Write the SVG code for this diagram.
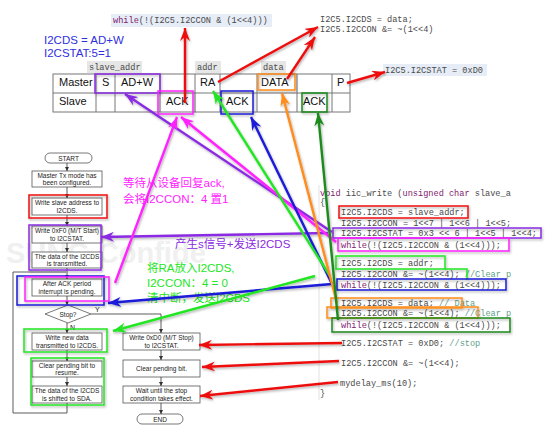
<svg xmlns="http://www.w3.org/2000/svg" width="557" height="434" viewBox="0 0 557 434">
<defs>
<style>
.code{font-family:"Liberation Mono","DejaVu Sans Mono",monospace;font-size:8.6px;fill:#4a4a4a}
.kw{fill:#7f1a6f}
.cm{fill:#5f9f8a}
.fc{font-family:"Liberation Sans",Arial,sans-serif;font-size:6.5px;fill:#222;text-anchor:middle}
.box{fill:#fff;stroke:#555;stroke-width:0.8}
.tbl{font-family:"Liberation Sans",Arial,sans-serif;font-size:11px;fill:#111}
.cell{fill:none;stroke:#777;stroke-width:1}
.hl{fill:none;stroke-width:1.5}
.cn{font-family:"Liberation Sans","Noto Sans CJK SC",sans-serif;font-size:11.5px}
.fl{fill:none;stroke:#333;stroke-width:0.8}
.ln{fill:none;stroke-width:2.4}
.red{stroke:#ee1111}.pur{stroke:#8a2be2}.mag{stroke:#ff22ff}.blu{stroke:#1a1ad8}.grn{stroke:#22e622}.org{stroke:#ff8c1a}.dgr{stroke:#1a8a1a}
</style>
<filter id="sh" x="-10%" y="-10%" width="130%" height="130%">
<feDropShadow dx="1" dy="1.5" stdDeviation="0.8" flood-color="#000" flood-opacity="0.3"/>
</filter>
<marker id="fa" markerWidth="5" markerHeight="5" refX="4" refY="2" orient="auto" markerUnits="userSpaceOnUse"><path d="M0,0 L4,2 L0,4 z" fill="#333"/></marker>
<marker id="mr" markerWidth="14" markerHeight="10" refX="13" refY="5" orient="auto" markerUnits="userSpaceOnUse"><path d="M0,0 L13,5 L0,10 L4,5 z" fill="#ee1111"/></marker>
<marker id="mp" markerWidth="14" markerHeight="10" refX="13" refY="5" orient="auto" markerUnits="userSpaceOnUse"><path d="M0,0 L13,5 L0,10 L4,5 z" fill="#8a2be2"/></marker>
<marker id="mm" markerWidth="14" markerHeight="10" refX="13" refY="5" orient="auto" markerUnits="userSpaceOnUse"><path d="M0,0 L13,5 L0,10 L4,5 z" fill="#ff22ff"/></marker>
<marker id="mb" markerWidth="14" markerHeight="10" refX="13" refY="5" orient="auto" markerUnits="userSpaceOnUse"><path d="M0,0 L13,5 L0,10 L4,5 z" fill="#1a1ad8"/></marker>
<marker id="mg" markerWidth="14" markerHeight="10" refX="13" refY="5" orient="auto" markerUnits="userSpaceOnUse"><path d="M0,0 L13,5 L0,10 L4,5 z" fill="#22e622"/></marker>
<marker id="mo" markerWidth="14" markerHeight="10" refX="13" refY="5" orient="auto" markerUnits="userSpaceOnUse"><path d="M0,0 L13,5 L0,10 L4,5 z" fill="#ff8c1a"/></marker>
<marker id="md" markerWidth="14" markerHeight="10" refX="13" refY="5" orient="auto" markerUnits="userSpaceOnUse"><path d="M0,0 L13,5 L0,10 L4,5 z" fill="#1a8a1a"/></marker>
</defs>
<rect width="557" height="434" fill="#fff"/>

<!-- watermark -->
<text x="6" y="263" font-family="Liberation Sans,Arial,sans-serif" font-size="29" font-weight="bold" fill="#f0f0f0">SUNG Confide</text>

<!-- top labels -->
<g id="top-code">
<rect x="111" y="14" width="161" height="13" fill="#e6edf6"/>
<text class="code" x="113" y="23"><tspan class="kw">while</tspan>(!(I2C5.I2CCON &amp; (1&lt;&lt;4)))</text>
<text class="code" x="320" y="22">I2C5.I2CDS = data;</text>
<text class="code" x="320" y="32">I2C5.I2CCON &amp;= ~(1&lt;&lt;4)</text>
<rect x="383" y="64" width="104" height="12" fill="#e6edf6"/>
<text class="code" x="385" y="73">I2C5.I2CSTAT = 0xD0</text>
</g>
<g id="blue-note" font-family="Liberation Sans,Arial,sans-serif" font-size="11.5" fill="#3030e0">
<text x="44" y="44">I2CDS = AD+W</text>
<text x="44" y="57">I2CSTAT:5=1</text>
</g>
<g id="field-labels">
<rect x="87" y="61" width="55" height="12" fill="#e6e6e6"/>
<text class="code" x="89" y="70">slave_addr</text>
<rect x="195" y="61" width="26" height="12" fill="#e6e6e6"/>
<text class="code" x="197" y="70">addr</text>
<rect x="261" y="61" width="25" height="12" fill="#e6e6e6"/>
<text class="code" x="263" y="70">data</text>
</g>

<!-- table -->
<g id="table">
<rect class="cell" x="53" y="74" width="297" height="38"/>
<line class="cell" x1="53" y1="93" x2="350" y2="93"/>
<path class="cell" d="M96,74V112M115,74V112M160,74V112M195,74V112M220,74V112M257,74V112M297,74V112M332,74V112"/>
<text class="tbl" x="59" y="86">Master</text>
<text class="tbl" x="102" y="86">S</text>
<text class="tbl" x="121" y="86">AD+W</text>
<text class="tbl" x="200" y="86">RA</text>
<text class="tbl" x="261" y="86">DATA</text>
<text class="tbl" x="337" y="86">P</text>
<text class="tbl" x="59" y="105">Slave</text>
<text class="tbl" x="166" y="105">ACK</text>
<text class="tbl" x="226" y="105">ACK</text>
<text class="tbl" x="303" y="105">ACK</text>
</g>
<g id="table-highlights" filter="url(#sh)">
<rect class="hl pur" x="95" y="74" width="65" height="19"/>
<rect class="hl mag" x="158" y="91" width="35" height="23"/>
<rect class="hl blu" x="221" y="91" width="32" height="23"/>
<rect class="hl org" x="258" y="74" width="37" height="16"/>
<rect class="hl dgr" x="302" y="93" width="25" height="19"/>
</g>

<!-- flowchart -->
<g id="fc-start"><rect class="box" x="45" y="153" width="47" height="10" rx="5"/><text class="fc" x="68.5" y="160.5">START</text></g>
<g id="fc-config"><rect class="box" x="32" y="171" width="70" height="16"/><text class="fc" x="67" y="177.8">Master Tx mode has</text><text class="fc" x="67" y="184.8">been configured.</text></g>
<g id="fc-slaveaddr"><rect class="box" x="32" y="198" width="70" height="17"/><text class="fc" x="67" y="205">Write slave address to</text><text class="fc" x="67" y="212.5">I2CDS.</text></g>
<g id="fc-start-write"><rect class="box" x="32" y="226" width="70" height="17"/><text class="fc" x="67" y="233">Write 0xF0 (M/T Start)</text><text class="fc" x="67" y="240.5">to I2CSTAT.</text></g>
<g id="fc-transmitted"><rect class="box" x="32" y="252" width="70" height="16"/><text class="fc" x="67" y="258.8">The data of the I2CDS</text><text class="fc" x="67" y="265.8">is transmitted.</text></g>
<g id="fc-ack"><rect class="box" x="32" y="279" width="70" height="17"/><text class="fc" x="67" y="286">After ACK period</text><text class="fc" x="67" y="293.5">interrupt is pending.</text></g>
<g id="fc-stop"><polygon class="box" points="45,314 68,305 91,314 68,323"/><text class="fc" x="68" y="316.5">Stop?</text></g>
<g id="fc-newdata"><rect class="box" x="32" y="333" width="70" height="17"/><text class="fc" x="67" y="340">Write new data</text><text class="fc" x="67" y="347.5">transmitted to I2CDS.</text></g>
<g id="fc-clear-resume"><rect class="box" x="32" y="361" width="70" height="16"/><text class="fc" x="67" y="367.8">Clear pending bit to</text><text class="fc" x="67" y="374.8">resume.</text></g>
<g id="fc-shifted"><rect class="box" x="32" y="386" width="70" height="17"/><text class="fc" x="67" y="393">The data of the I2CDS</text><text class="fc" x="67" y="400.5">is shifted to SDA.</text></g>
<g id="fc-stop-write"><rect class="box" x="123" y="333" width="77" height="17"/><text class="fc" x="161.5" y="340">Write 0xD0 (M/T Stop)</text><text class="fc" x="161.5" y="347.5">to I2CSTAT.</text></g>
<g id="fc-clear"><rect class="box" x="123" y="360" width="77" height="17"/><text class="fc" x="161.5" y="370.8">Clear pending bit.</text></g>
<g id="fc-wait"><rect class="box" x="123" y="386" width="77" height="17"/><text class="fc" x="161.5" y="393">Wait until the stop</text><text class="fc" x="161.5" y="400.5">condition takes effect.</text></g>
<g id="fc-end"><rect class="box" x="137" y="414" width="46" height="10" rx="5"/><text class="fc" x="160" y="421.5">END</text></g>
<g id="fc-labels" font-family="Liberation Sans,Arial,sans-serif" font-size="7" fill="#222">
<text x="95" y="312">Y</text>
<text x="70" y="330">N</text>
</g>

<g id="fc-connectors">
<path class="fl" marker-end="url(#fa)" d="M67,163V171"/>
<path class="fl" marker-end="url(#fa)" d="M67,187V198"/>
<path class="fl" marker-end="url(#fa)" d="M67,215V226"/>
<path class="fl" marker-end="url(#fa)" d="M67,243V252"/>
<path class="fl" marker-end="url(#fa)" d="M67,268V279"/>
<path class="fl" marker-end="url(#fa)" d="M67,296V305"/>
<path class="fl" marker-end="url(#fa)" d="M67,323V333"/>
<path class="fl" marker-end="url(#fa)" d="M67,350V361"/>
<path class="fl" marker-end="url(#fa)" d="M67,377V386"/>
<path class="fl" d="M67,403V413H13V272H66"/>
<path class="fl" marker-end="url(#fa)" d="M91,314H161V333"/>
<path class="fl" marker-end="url(#fa)" d="M161,350V360"/>
<path class="fl" marker-end="url(#fa)" d="M161,377V386"/>
<path class="fl" marker-end="url(#fa)" d="M161,403V414"/>
</g>

<g id="fc-highlights" filter="url(#sh)">
<rect class="hl red" x="29" y="195" width="78" height="23"/>
<rect class="hl pur" x="29" y="225" width="72" height="45"/>
<rect class="hl blu" x="17" y="276" width="87" height="29"/>
<rect class="hl mag" x="25" y="277" width="84" height="24"/>
<rect class="hl grn" x="24" y="329" width="83" height="23"/>
<rect class="hl grn" x="31" y="358" width="73" height="47"/>
</g>

<!-- code -->
<line x1="319" y1="185" x2="319" y2="400" stroke="#e2e2e2" stroke-width="1"/>
<g id="code">
<text class="code" x="320" y="196"><tspan class="kw">void</tspan> iic_write (<tspan class="kw">unsigned char</tspan> slave_a</text>
<text class="code" x="320" y="205">{</text>
<text class="code" x="341" y="215">I2C5.I2CDS = slave_addr;</text>
<text class="code" x="341" y="225.5">I2C5.I2CCON = 1&lt;&lt;7 | 1&lt;&lt;6 | 1&lt;&lt;5;</text>
<text class="code" x="341" y="236.3">I2C5.I2CSTAT = 0x3 &lt;&lt; 6 | 1&lt;&lt;5 | 1&lt;&lt;4;</text>
<text class="code" x="341" y="247.5"><tspan class="kw">while</tspan>(!(I2C5.I2CCON &amp; (1&lt;&lt;4)));</text>
<text class="code" x="341" y="265.8">I2C5.I2CDS = addr;</text>
<text class="code" x="341" y="277">I2C5.I2CCON &amp;= ~(1&lt;&lt;4);  <tspan class="cm">//Clear p</tspan></text>
<text class="code" x="341" y="287.5"><tspan class="kw">while</tspan>(!(I2C5.I2CCON &amp; (1&lt;&lt;4)));</text>
<text class="code" x="341" y="306">I2C5.I2CDS = data;  <tspan class="cm">// Data</tspan></text>
<text class="code" x="341" y="316">I2C5.I2CCON &amp;= ~(1&lt;&lt;4); <tspan class="cm">//Clear p</tspan></text>
<text class="code" x="341" y="327.5"><tspan class="kw">while</tspan>(!(I2C5.I2CCON &amp; (1&lt;&lt;4)));</text>
<text class="code" x="341" y="346">I2C5.I2CSTAT = 0xD0; <tspan class="cm">//stop</tspan></text>
<text class="code" x="341" y="366">I2C5.I2CCON &amp;= ~(1&lt;&lt;4);</text>
<text class="code" x="340" y="386">mydelay_ms(10);</text>
<text class="code" x="320" y="396">}</text>
</g>
<g id="code-highlights" filter="url(#sh)">
<rect class="hl red" x="339" y="206" width="129" height="12"/>
<rect class="hl pur" x="333" y="228" width="208" height="10"/>
<rect class="hl mag" x="338" y="238" width="171" height="13"/>
<rect class="hl grn" x="336" y="256" width="109" height="13"/>
<path class="hl grn" d="M445,269H467V280"/>
<rect class="hl blu" x="337" y="279" width="169" height="11"/>
<rect class="hl org" x="331" y="298" width="131" height="10"/>
<rect class="hl org" x="327" y="307" width="151" height="11"/>
<rect class="hl dgr" x="332" y="318" width="178" height="14"/>
</g>

<!-- annotations -->
<g id="note-magenta" class="cn" fill="#ff22ff">
<text x="123" y="187">等待从设备回复ack,</text>
<text x="123" y="203">会将I2CCON：4 置1</text>
</g>
<g id="note-purple" class="cn" fill="#8a2be2">
<text x="175" y="248">产生s信号+发送I2CDS</text>
</g>
<g id="note-green" class="cn" fill="#22e622">
<text x="147" y="272">将RA放入I2CDS,</text>
<text x="147" y="287">I2CCON：4 = 0</text>
<text x="147" y="302">清中断，发送I2CDS</text>
</g>

<!-- connectors -->
<g id="connectors" filter="url(#sh)">
<path class="ln red" marker-end="url(#mr)" d="M185,103L185,28"/>
<path class="ln red" marker-end="url(#mr)" d="M218,82L318,27"/>
<path class="ln red" marker-end="url(#mr)" d="M287,79L315,37"/>
<path class="ln red" marker-end="url(#mr)" d="M347,83L385,72"/>
<path class="ln red" marker-end="url(#mr)" d="M342,343L199,345"/>
<path class="ln red" marker-end="url(#mr)" d="M339,361L202,367"/>
<path class="ln red" marker-end="url(#mr)" d="M338,382L200,396"/>
<path class="ln pur" marker-end="url(#mp)" d="M328,233L101,237"/>
<path class="ln pur" marker-end="url(#mp)" d="M332,232L125,94"/>
<path class="ln mag" marker-end="url(#mm)" d="M115,283L177,117"/>
<path class="ln mag" marker-end="url(#mm)" d="M336,242L181,117"/>
<path class="ln blu" marker-end="url(#mb)" d="M332,284L251,117"/>
<path class="ln blu" marker-end="url(#mb)" d="M332,284L108,303"/>
<path class="ln grn" marker-end="url(#mg)" d="M330,276L213,91"/>
<path class="ln grn" marker-end="url(#mg)" d="M315,276L113,331"/>
<path class="ln org" marker-end="url(#mo)" d="M337,303L282,93"/>
<path class="ln dgr" marker-end="url(#md)" d="M338,320L318,113"/>
</g>
</svg>
